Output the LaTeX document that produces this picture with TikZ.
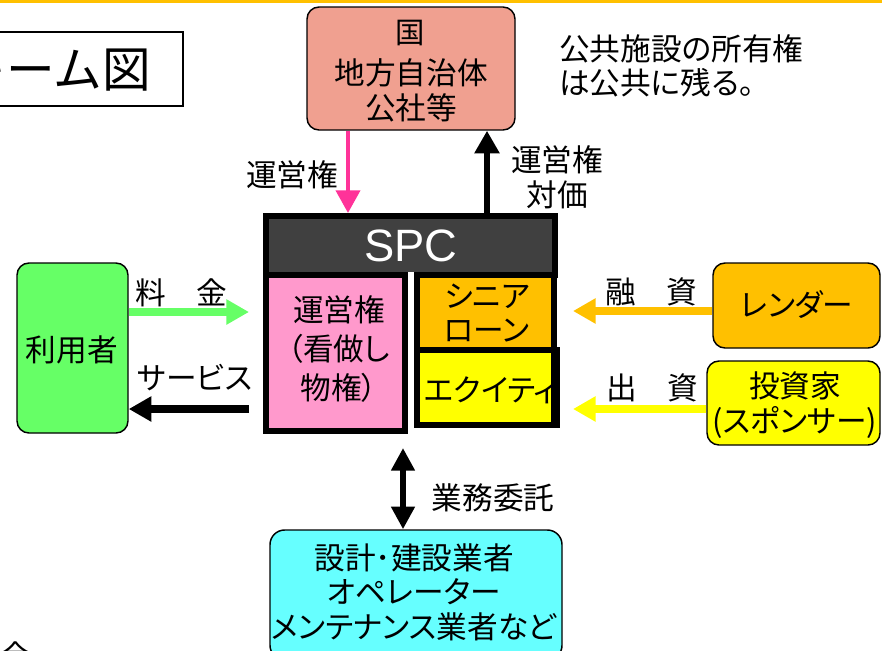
\documentclass[tikz,border=0pt]{standalone}
\usepackage{fontspec}
\setmainfont{Noto Sans CJK JP}[RawFeature=+palt]
\newfontfamily\jpfull{Noto Sans CJK JP}
\newfontfamily\arialfont{Liberation Sans}
\usetikzlibrary{fit,arrows.meta}
\definecolor{salmon}{HTML}{F0A090}
\definecolor{pinkfill}{HTML}{FF99CC}
\definecolor{pinkarr}{HTML}{FF3399}
\definecolor{greenfill}{HTML}{66FF66}
\definecolor{orangefill}{HTML}{FFC000}
\definecolor{yellowfill}{HTML}{FFFF00}
\definecolor{cyanfill}{HTML}{66FFFF}
\definecolor{spcgray}{HTML}{404040}
\tikzset{
  txt/.style={font=\fontsize{23}{26}\selectfont, align=center, inner sep=0pt},
  rbox/.style={draw=black, line width=1.1pt, rounded corners=9pt, inner sep=0pt},
  sbox/.style={draw=black, line width=4.5pt, inner sep=0pt},
  flow/.style={line width=#1, -{Triangle[length=17pt,width=18pt]}},
}
\begin{document}
\begin{tikzpicture}[x=0.75pt,y=-0.75pt]
\useasboundingbox (0,0) rectangle (882,650);
% top rule
\fill[orangefill] (0,0) rectangle (882,2.5);
% title box
\node[draw=black, line width=1.1pt, inner sep=0pt, fit={(-30,32)(183,106)}] (titlebox) {};
\node[anchor=east, inner sep=0pt, font=\jpfull\fontsize{36.5}{40}\selectfont] (title) at (151,70) {スキーム図};
% government
\node[rbox, fill=salmon, fit={(307,7)(515,130)}] (gov) {};
\node[txt, font=\fontsize{22}{24}\selectfont] (gov1) at (410,33) {国};
\node[txt] (gov2) at (411,73) {地方自治体};
\node[txt] (gov3) at (411,108) {公社等};
% note
\node[txt, anchor=west, align=left] (note) at (559,66) {公共施設の所有権\\は公共に残る。};
% SPC structure
\node[sbox, fill=spcgray, fit={(266,216)(555,275)}] (spc) {};
\node[sbox, fill=pinkfill, fit={(266,275)(405,431)}] (unei) {};
\node[sbox, fill=yellowfill, fit={(417,350)(554,425)}] (equity) {};
\node[sbox, fill=orangefill, fit={(417,275)(554,350)}] (senior) {};
\fill[white] (408,272) rectangle (414,426);
\node[txt, text=white, font=\arialfont\fontsize{34}{36}\selectfont] (spctext) at (411,246) {SPC};
\node[txt, font=\fontsize{23}{29}\selectfont] (uneitext) at (339,349) {運営権\\（看做し\\物権）};
\node[txt] (seniortext) at (487,313) {シニア\\ローン};
\node[txt, anchor=west] (equitytext) at (424,390) {エクイティ};
\draw[black, line width=4.5pt] (equity.north east) -- (equity.south east);
% users
\node[rbox, fill=greenfill, fit={(17,263)(128,433)}] (user) {};
\node[txt] (usertext) at (72,350) {利用者};
% lender / investor
\node[rbox, fill=orangefill, fit={(713,263)(880,348)}] (lender) {};
\node[txt] (lendertext) at (797,305) {レンダー};
\node[rbox, fill=yellowfill, fit={(707,361)(880,445)}] (investor) {};
\node[txt] (investortext) at (795,405) {投資家\\(スポンサー)};
% contractors
\node[rbox, rounded corners=11pt, fill=cyanfill, fit={(270,530)(562,660)}] (contr) {};
\node[txt] (contrtext) at (414,592) {設計･建設業者\\オペレーター\\メンテナンス業者など};
% arrows
\draw[flow=3pt, pinkarr] (gov.south -| 348,0) -- (spc.north -| 348,0);
\draw[flow=5pt, black] (spc.north -| 487,0) -- (gov.south -| 487,0);
\draw[flow=6pt, greenfill, shorten >=10.5pt] (user.east |- 0,312) -- (unei.west |- 0,312);
\draw[flow=6.5pt, black, shorten <=10.5pt] (unei.west |- 0,409) -- (user.east |- 0,409);
\draw[flow=6pt, orangefill, shorten >=12pt] (lender.west |- 0,311) -- (senior.east |- 0,311);
\draw[flow=6pt, yellowfill, shorten >=12pt] (investor.west |- 0,409) -- (equity.east |- 0,409);
\draw[line width=5pt, black, {Triangle[length=17pt,width=17pt]}-{Triangle[length=17pt,width=17pt]}, shorten <=10.5pt] (unei.south -| 403,0) -- (contr.north -| 403,0);
% labels
\node[txt] (lblunei) at (292,175) {運営権};
\node[txt] (lbltaika) at (557,177) {運営権\\対価};
\node[txt] (lblryo) at (181,293) {料　金};
\node[txt] (lblsvc) at (195,378) {サービス};
\node[txt] (lblyu) at (651,292) {融　資};
\node[txt] (lblshu) at (652,388) {出　資};
\node[txt] (lblgyo) at (493,498) {業務委託};
\node[txt, anchor=north] (frag) at (16,641) {会};
\end{tikzpicture}
\end{document}
